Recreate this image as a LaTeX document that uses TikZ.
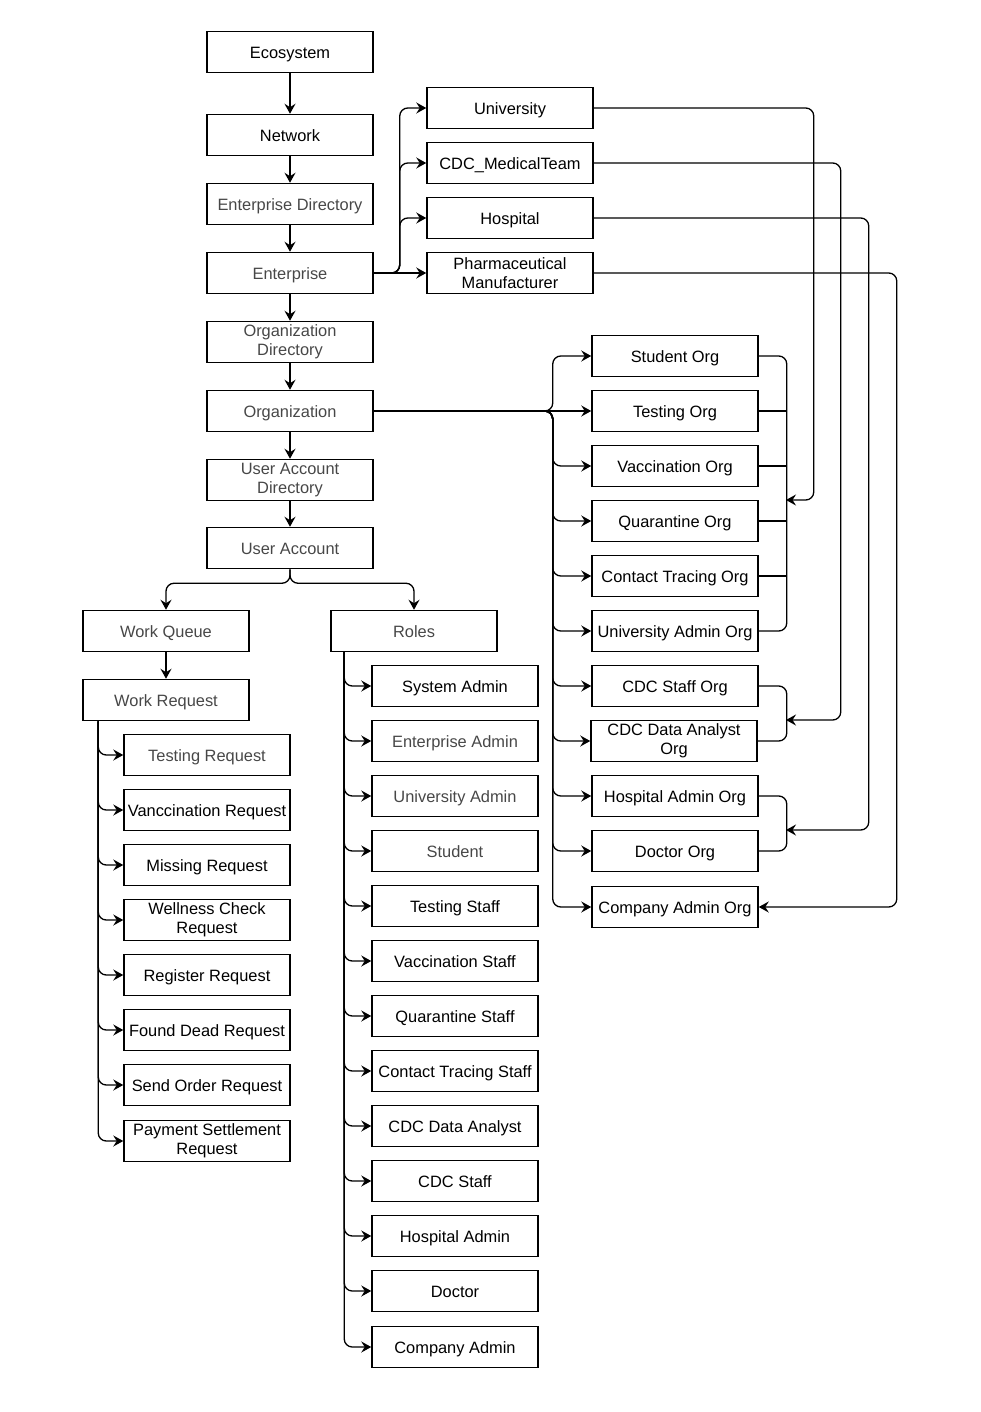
\documentclass[tikz,border=0pt]{standalone}
\usepackage{fontspec}
\setmainfont{Liberation Sans}
\usepackage{tikz}
\usetikzlibrary{calc,arrows.meta}

\tikzset{
	frame/.style={draw, line width=1.5pt, minimum width=166pt, minimum height=41pt, inner sep=2pt, align=center, font=\fontsize{16.4}{19}\selectfont},
	box/.style={frame, text height=13pt, text depth=0pt},
	soft/.style={text=black!72},
	wire/.style={line width=1.3pt, rounded corners=8pt},
	link/.style={wire, -{Stealth[length=10pt,width=11pt,inset=3.5pt]}}
}

\begin{document}
\begin{tikzpicture}[x=1pt, y=-1pt]
		%%%%% START %%%%%
		\useasboundingbox (0,0) rectangle (980,1412);
		
		\node[box] (eco) at (290, 52) {Ecosystem};
		\node[box] (net) at (290, 135) {Network};
		\node[box, soft] (entdir) at (290, 204) {Enterprise Directory};
		\node[box, soft] (ent) at (290, 273) {Enterprise};
		\node[frame, soft] (orgdir) at (290, 342) {Organization\\Directory};
		\node[box, soft] (orgn) at (290, 411) {Organization};
		\node[frame, soft] (uadir) at (290, 480) {User Account\\Directory};
		\node[box, soft] (ua) at (290, 548) {User Account};
		
		\node[box] (uni) at (510, 108) {University};
		\node[box] (cdc) at (510, 163) {CDC\_MedicalTeam};
		\node[box] (hosp) at (510, 218) {Hospital};
		\node[frame] (pharma) at (510, 273) {Pharmaceutical\\Manufacturer};
		
		\node[box] (studorg) at (675, 356) {Student Org};
		\node[box] (testorg) at (675, 411) {Testing Org};
		\node[box] (vaccorg) at (675, 466) {Vaccination Org};
		\node[box] (quarorg) at (675, 521) {Quarantine Org};
		\node[box] (traceorg) at (675, 576) {Contact Tracing Org};
		\node[box] (uniadmorg) at (675, 631) {University Admin Org};
		\node[box] (cdcstafforg) at (675, 686) {CDC Staff Org};
		\node[frame] (cdcdataorg) at (674, 741) {CDC Data Analyst\\Org};
		\node[box] (hospadmorg) at (675, 796) {Hospital Admin Org};
		\node[box] (docorg) at (675, 851) {Doctor Org};
		\node[box] (compadmorg) at (675, 907) {Company Admin Org};
		
		\node[box, soft] (wq) at (166, 631) {Work Queue};
		\node[box, soft] (wr) at (166, 700) {Work Request};
		\node[box, soft] (testreq) at (207, 755) {Testing Request};
		\node[box] (vaccreq) at (207, 810) {Vanccination Request};
		\node[box] (missreq) at (207, 865) {Missing Request};
		\node[frame] (wellreq) at (207, 920) {Wellness Check\\Request};
		\node[box] (regreq) at (207, 975) {Register Request};
		\node[box] (deadreq) at (207, 1030) {Found Dead Request};
		\node[box] (orderreq) at (207, 1085) {Send Order Request};
		\node[frame] (payreq) at (207, 1141) {Payment Settlement\\Request};
		
		\node[box, soft] (roles) at (414, 631) {Roles};
		\node[box] (sysadm) at (455, 686) {System Admin};
		\node[box, soft] (entadm) at (455, 741) {Enterprise Admin};
		\node[box, soft] (uniadm) at (455, 796) {University Admin};
		\node[box, soft] (student) at (455, 851) {Student};
		\node[box] (teststaff) at (455, 906) {Testing Staff};
		\node[box] (vaccstaff) at (455, 961) {Vaccination Staff};
		\node[box] (quarstaff) at (455, 1016) {Quarantine Staff};
		\node[box] (tracestaff) at (455, 1071) {Contact Tracing Staff};
		\node[box] (cdcdata) at (455, 1126) {CDC Data Analyst};
		\node[box] (cdcstaff) at (455, 1181) {CDC Staff};
		\node[box] (hospadm) at (455, 1236) {Hospital Admin};
		\node[box] (doctor) at (455, 1291) {Doctor};
		\node[box] (compadm) at (455, 1347) {Company Admin};
		
		\coordinate (unijoin) at (786, 500);
		\coordinate (cdcjoin) at (786, 720);
		\coordinate (hospjoin) at (786, 830);
		
		% main chain
		\draw[link] (eco) -- (net);
		\draw[link] (net) -- (entdir);
		\draw[link] (entdir) -- (ent);
		\draw[link] (ent) -- (orgdir);
		\draw[link] (orgdir) -- (orgn);
		\draw[link] (orgn) -- (uadir);
		\draw[link] (uadir) -- (ua);
		
		% enterprises
		\draw[link] (ent.east) -- ++(26, 0) |- (uni.west);
		\draw[link] (ent.east) -- ++(26, 0) |- (cdc.west);
		\draw[link] (ent.east) -- ++(26, 0) |- (hosp.west);
		\draw[link] (ent) -- (pharma);
		
		% organizations
		\draw[link] (orgn.east) -- ++(179, 0) |- (studorg.west);
		\draw[link] (orgn) -- (testorg);
		\draw[link] (orgn.east) -- ++(179, 0) |- (vaccorg.west);
		\draw[link] (orgn.east) -- ++(179, 0) |- (quarorg.west);
		\draw[link] (orgn.east) -- ++(179, 0) |- (traceorg.west);
		\draw[link] (orgn.east) -- ++(179, 0) |- (uniadmorg.west);
		\draw[link] (orgn.east) -- ++(179, 0) |- (cdcstafforg.west);
		\draw[link] (orgn.east) -- ++(179, 0) |- (cdcdataorg.west);
		\draw[link] (orgn.east) -- ++(179, 0) |- (hospadmorg.west);
		\draw[link] (orgn.east) -- ++(179, 0) |- (docorg.west);
		\draw[link] (orgn.east) -- ++(179, 0) |- (compadmorg.west);
		
		% brackets
		\draw[wire] (studorg.east) -- ++(28, 0) |- (uniadmorg.east);
		\draw[wire] (testorg.east) -- ++(28, 0);
		\draw[wire] (vaccorg.east) -- ++(28, 0);
		\draw[wire] (quarorg.east) -- ++(28, 0);
		\draw[wire] (traceorg.east) -- ++(28, 0);
		\draw[wire] (cdcstafforg.east) -- ++(28, 0) |- (cdcdataorg.east);
		\draw[wire] (hospadmorg.east) -- ++(28, 0) |- (docorg.east);
		
		\draw[link] (uni.east) -- ++(220, 0) |- (unijoin);
		\draw[link] (cdc.east) -- ++(247, 0) |- (cdcjoin);
		\draw[link] (hosp.east) -- ++(275, 0) |- (hospjoin);
		\draw[link] (pharma.east) -- ++(303, 0) |- (compadmorg.east);
		
		% user account
		\draw[link] (ua.south) -- ++(0, 14) -| (wq.north);
		\draw[link] (ua.south) -- ++(0, 14) -| (roles.north);
		\draw[link] (wq) -- (wr);
		
		\draw[link] ($(wr.south west)+(16, 0)$) |- (testreq.west);
		\draw[link] ($(wr.south west)+(16, 0)$) |- (vaccreq.west);
		\draw[link] ($(wr.south west)+(16, 0)$) |- (missreq.west);
		\draw[link] ($(wr.south west)+(16, 0)$) |- (wellreq.west);
		\draw[link] ($(wr.south west)+(16, 0)$) |- (regreq.west);
		\draw[link] ($(wr.south west)+(16, 0)$) |- (deadreq.west);
		\draw[link] ($(wr.south west)+(16, 0)$) |- (orderreq.west);
		\draw[link] ($(wr.south west)+(16, 0)$) |- (payreq.west);
		
		\draw[link] ($(roles.south west)+(14, 0)$) |- (sysadm.west);
		\draw[link] ($(roles.south west)+(14, 0)$) |- (entadm.west);
		\draw[link] ($(roles.south west)+(14, 0)$) |- (uniadm.west);
		\draw[link] ($(roles.south west)+(14, 0)$) |- (student.west);
		\draw[link] ($(roles.south west)+(14, 0)$) |- (teststaff.west);
		\draw[link] ($(roles.south west)+(14, 0)$) |- (vaccstaff.west);
		\draw[link] ($(roles.south west)+(14, 0)$) |- (quarstaff.west);
		\draw[link] ($(roles.south west)+(14, 0)$) |- (tracestaff.west);
		\draw[link] ($(roles.south west)+(14, 0)$) |- (cdcdata.west);
		\draw[link] ($(roles.south west)+(14, 0)$) |- (cdcstaff.west);
		\draw[link] ($(roles.south west)+(14, 0)$) |- (hospadm.west);
		\draw[link] ($(roles.south west)+(14, 0)$) |- (doctor.west);
		\draw[link] ($(roles.south west)+(14, 0)$) |- (compadm.west);
		
		%%%%% END %%%%%
	\end{tikzpicture}
\end{document}
